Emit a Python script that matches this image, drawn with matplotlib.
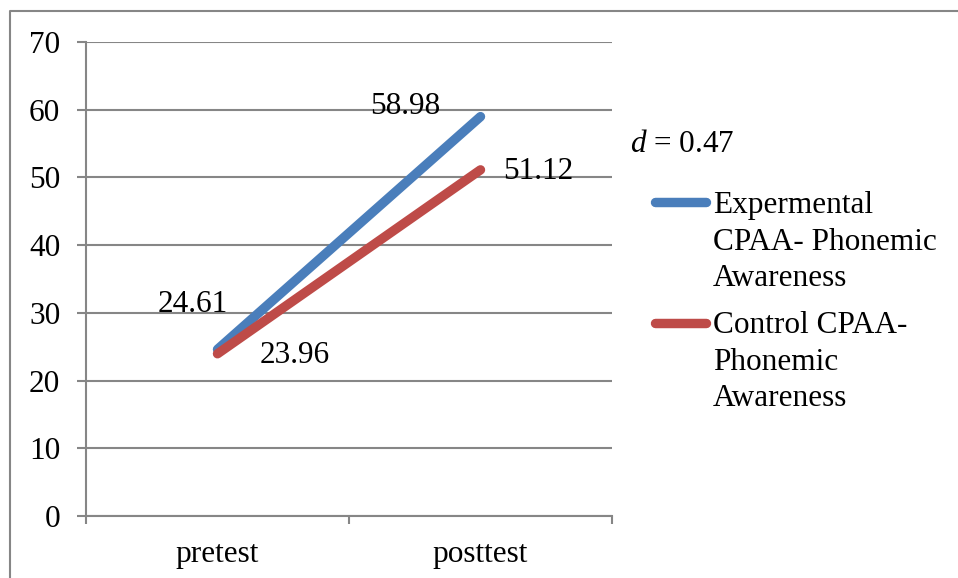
import matplotlib
matplotlib.use("Agg")
import matplotlib.pyplot as plt
from matplotlib.lines import Line2D

plt.rcParams['font.family'] = ['Liberation Serif', 'DejaVu Serif']
plt.rcParams['mathtext.fontset'] = 'custom'
plt.rcParams['mathtext.rm'] = 'Liberation Serif'
plt.rcParams['mathtext.it'] = 'Liberation Serif:italic'

# data
categories = ['pretest', 'posttest']
experimental = [24.61, 58.98]
control = [23.96, 51.12]
series_names = ['Expermental\nCPAA- Phonemic\nAwareness',
                'Control CPAA-\nPhonemic\nAwareness']
effect_size = 0.47

blue = '#4A7EBB'
red = '#BE4B48'
grid = '#868686'
fs = 22.5
lw = 6.8

fig = plt.figure(figsize=(9.58, 5.78), dpi=100)
ax = fig.add_axes([86/958, 62/578, 526/958, 474/578])

x = range(len(categories))
ax.plot(x, experimental, color=blue, lw=lw, solid_capstyle='round', zorder=3)
ax.plot(x, control, color=red, lw=lw, solid_capstyle='round', zorder=4)

ax.set_xlim(-0.5, 1.5)
ax.set_ylim(0, 70)
ax.set_yticks(range(0, 71, 10))
ax.yaxis.grid(True, color=grid, lw=1.5)
ax.set_axisbelow(True)

# category ticks between groups, labels centered
ax.set_xticks([-0.5, 0.5, 1.5])
ax.set_xticklabels([])
ax.set_xticks(list(x), minor=True)
ax.set_xticklabels(categories, minor=True, fontsize=fs)
ax.tick_params(axis='x', which='major', length=6, width=1.5, color=grid, direction='out')
ax.tick_params(axis='x', which='minor', length=0, pad=17.5)
ax.tick_params(axis='y', length=6.5, width=1.5, color=grid, labelsize=fs, pad=12)

for s in ['top', 'right']:
    ax.spines[s].set_visible(False)
for s in ['left', 'bottom']:
    ax.spines[s].set_color(grid)
    ax.spines[s].set_linewidth(1.5)

# data labels
ax.annotate(f'{experimental[0]:.2f}', (0, experimental[0]), xytext=(-25, 45),
            textcoords='offset pixels', ha='center', va='center', fontsize=fs)
ax.annotate(f'{control[0]:.2f}', (0, control[0]), xytext=(77, -2),
            textcoords='offset pixels', ha='center', va='center', fontsize=fs)
ax.annotate(f'{experimental[1]:.2f}', (1, experimental[1]), xytext=(-75, 10),
            textcoords='offset pixels', ha='center', va='center', fontsize=fs)
ax.annotate(f'{control[1]:.2f}', (1, control[1]), xytext=(58, -2),
            textcoords='offset pixels', ha='center', va='center', fontsize=fs)

# effect size and legend
fig.text(630/958, 1 - 144/578, f'$d$ = {effect_size}', fontsize=fs, va='center', ha='left')
for color, name, ly, cy in [(blue, series_names[0], 202, 242), (red, series_names[1], 323, 362)]:
    fig.add_artist(Line2D([655/958, 706/958], [1 - ly/578, 1 - ly/578], color=color,
                          lw=lw, solid_capstyle='round', transform=fig.transFigure))
    fig.text(713/958, 1 - cy/578, name, fontsize=fs, va='center', ha='left', linespacing=1.33)

# outer border (top and left visible, rest cropped)
fig.add_artist(Line2D([10/958, 10/958, 1.0], [0.0, 1 - 11/578, 1 - 11/578],
                      color=grid, lw=1.5, transform=fig.transFigure))

fig.savefig('out.png', dpi=100)
